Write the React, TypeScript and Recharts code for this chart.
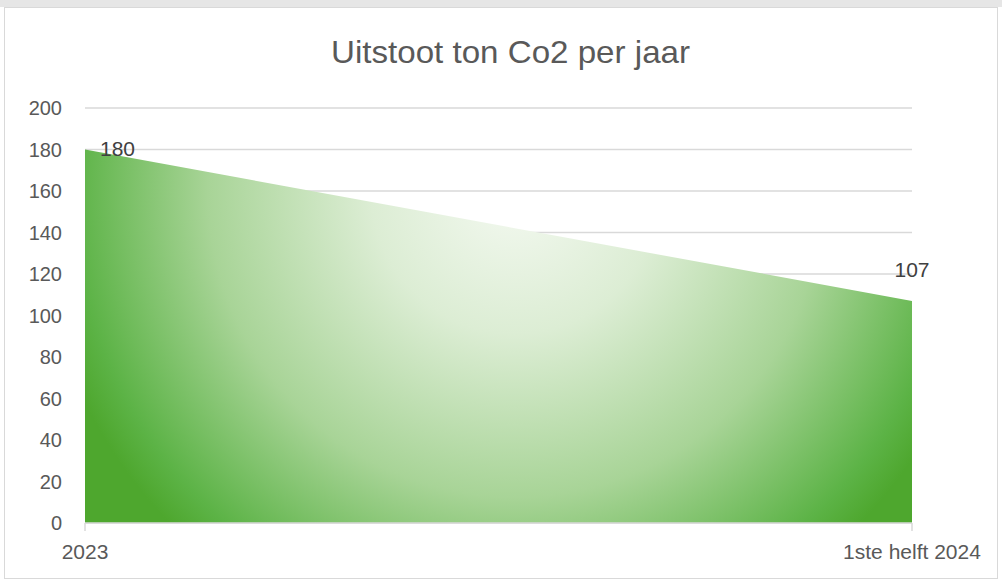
import { Area, AreaChart, CartesianGrid, LabelList, XAxis, YAxis } from "recharts";

const periods = ["2023", "1ste helft 2024"];
const uitstoot = [180, 107];
const yTicks = [0, 20, 40, 60, 80, 100, 120, 140, 160, 180, 200];

const data = periods.map((period, i) => ({ period, uitstoot: uitstoot[i] }));

const labelFont = "'Liberation Sans', Arial, sans-serif";

const DataLabel = (props: any) => {
  const { x, y, value, index } = props;
  if (index === 0) {
    return (
      <text x={x + 15} y={y - 1} dy="0.35em" fontSize={21} fill="#404040" fontFamily={labelFont}>
        {value}
      </text>
    );
  }
  return (
    <text x={x} y={y - 31} dy="0.35em" textAnchor="middle" fontSize={21} fill="#404040" fontFamily={labelFont}>
      {value}
    </text>
  );
};

export default function App() {
  return (
    <div style={{ position: "absolute", left: 0, top: 0, width: 1002, height: 580, background: "#fff" }}>
      <div style={{ position: "absolute", left: 0, top: 0, width: 1002, height: 7, background: "#e6e6e6" }} />
      <div
        style={{
          position: "absolute",
          left: 4,
          top: 7,
          width: 994,
          height: 572,
          border: "1px solid #d9d9d9",
          boxSizing: "border-box",
        }}
      />
      <svg style={{ position: "absolute", left: 0, top: 0 }} width={1002} height={100}>
        <text
          x={331}
          y={63}
          textLength={359}
          lengthAdjust="spacingAndGlyphs"
          fontSize={32}
          fill="#595959"
          fontFamily={labelFont}
        >
          Uitstoot ton Co2 per jaar
        </text>
      </svg>
      <div style={{ position: "absolute", left: 0, top: 0 }}>
        <AreaChart width={1002} height={580} data={data} margin={{ top: 108, right: 90, bottom: 0, left: 0 }}>
          <defs>
            <radialGradient id="co2Fill" gradientUnits="userSpaceOnUse" cx={515} cy={190} r={480}>
              <stop offset="0%" stopColor="#f4f9f1" />
              <stop offset="30%" stopColor="#dcedd4" />
              <stop offset="64%" stopColor="#a8d497" />
              <stop offset="92%" stopColor="#5cb346" />
              <stop offset="100%" stopColor="#4ea72e" />
            </radialGradient>
          </defs>
          <CartesianGrid horizontal vertical={false} stroke="#d9d9d9" strokeWidth={1.5} />
          <XAxis
            dataKey="period"
            interval={0}
            height={57}
            tickSize={8}
            tickMargin={13}
            axisLine={{ stroke: "#d9d9d9", strokeWidth: 1.5 }}
            tickLine={{ stroke: "#d9d9d9", strokeWidth: 1.5 }}
            tick={{ fill: "#595959", fontSize: 21, fontFamily: labelFont }}
          />
          <YAxis
            type="number"
            domain={[0, 200]}
            ticks={yTicks}
            width={85}
            axisLine={false}
            tickLine={false}
            tickSize={0}
            tickMargin={23}
            tick={{ fill: "#595959", fontSize: 20, fontFamily: labelFont }}
          />
          <Area
            type="linear"
            dataKey="uitstoot"
            stroke="none"
            fill="url(#co2Fill)"
            fillOpacity={1}
            isAnimationActive={false}
          >
            <LabelList dataKey="uitstoot" content={DataLabel} />
          </Area>
        </AreaChart>
      </div>
    </div>
  );
}
